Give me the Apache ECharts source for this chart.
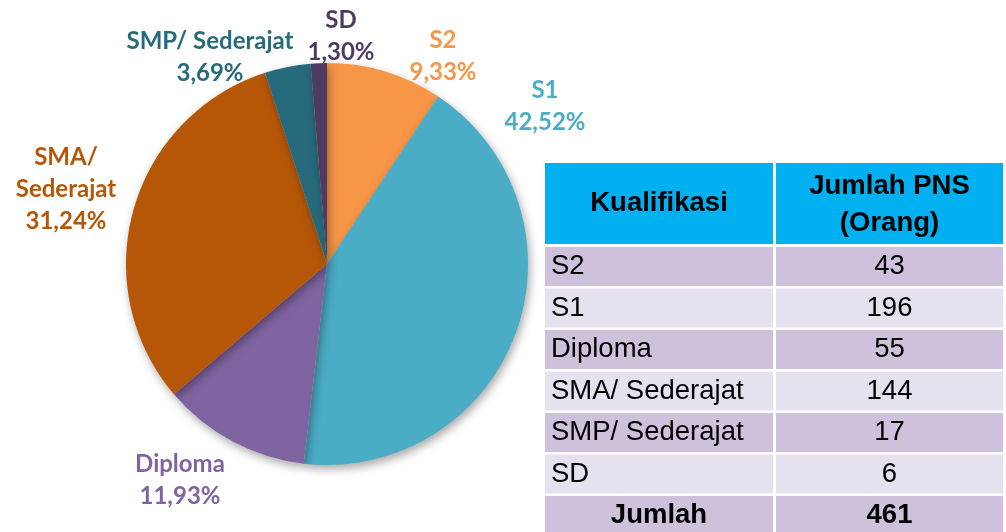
<!DOCTYPE html>
<html>
<head>
<meta charset="utf-8">
<script src="https://cdn.jsdelivr.net/npm/echarts@6/dist/echarts.min.js"></script>
<style>
  html, body { margin: 0; padding: 0; background: #fff; }
  #container { width: 1006px; height: 532px; }
</style>
</head>
<body>
<div id="container"></div>
<script>
// data
const categories = ['S2', 'S1', 'Diploma', 'SMA/ Sederajat', 'SMP/ Sederajat', 'SD'];
const pieNames = ['S2', 'S1', 'Diploma', 'SMA/\nSederajat', 'SMP/ Sederajat', 'SD'];
const jumlahPNS = [43, 196, 55, 144, 17, 6];
const headers = ['Kualifikasi', 'Jumlah PNS\n(Orang)'];
const totalLabel = 'Jumlah';

const colors = ['#F79646', '#4BACC6', '#8064A2', '#B65708', '#276A7C', '#4F3B62'];
// label anchor points (center of each label block)
const labelPos = [[443, 56], [545, 106], [180, 480], [66, 189], [210, 57], [341, 36]];

const total = jumlahPNS.reduce((a, b) => a + b, 0);

const dom = document.getElementById('container');
const myChart = echarts.init(dom, null, { renderer: 'canvas' });

// table drawn with graphic elements
const tx0 = 545, tsplit = 773, tx1 = 1003;
const col2x = tsplit + 3;
const headTop = 163, headH = 81;
const rowTop = 247, rowPitch = 41.5, rowH = 39;
const tableFont = 'Liberation Sans, Arial, sans-serif';
const graphics = [];

function addRect(x, y, w, h, fill) {
  graphics.push({ type: 'rect', shape: { x: x, y: y, width: w, height: h }, style: { fill: fill }, silent: true });
}
function addText(text, x, y, align, bold) {
  graphics.push({
    type: 'text',
    style: {
      text: text, x: x, y: y,
      align: align, verticalAlign: 'middle',
      textAlign: align, textVerticalAlign: 'middle',
      fill: '#000', fontSize: 27.5, fontFamily: tableFont,
      fontWeight: bold ? 'bold' : 'normal', lineHeight: 37
    },
    silent: true
  });
}

addRect(tx0, headTop, tsplit - tx0, headH, '#00B0F0');
addRect(col2x, headTop, tx1 - col2x, headH, '#00B0F0');
addText(headers[0], (tx0 + tsplit) / 2, headTop + headH / 2, 'center', true);
addText(headers[1], (col2x + tx1) / 2, headTop + headH / 2 + 1, 'center', true);

const rows = categories.map((c, i) => [c, String(jumlahPNS[i]), false]);
rows.push([totalLabel, String(total), true]);
rows.forEach((r, i) => {
  const y = rowTop + i * rowPitch;
  const fill = i % 2 === 0 ? '#CDC1DC' : '#E6E1EE';
  addRect(tx0, y, tsplit - tx0, rowH, fill);
  addRect(col2x, y, tx1 - col2x, rowH, fill);
  if (r[2]) {
    addText(r[0], (tx0 + tsplit) / 2, y + rowH / 2, 'center', true);
  } else {
    addText(r[0], tx0 + 6, y + rowH / 2, 'left', false);
  }
  addText(r[1], (col2x + tx1) / 2, y + rowH / 2, 'center', r[2]);
});

const option = {
  animation: false,
  color: colors,
  graphic: graphics,
  series: [
    {
      type: 'pie',
      center: [327, 264],
      radius: 201,
      startAngle: 90,
      clockwise: true,
      itemStyle: {
        shadowBlur: 10,
        shadowColor: 'rgba(0,0,0,0.35)',
        shadowOffsetX: 2,
        shadowOffsetY: 4
      },
      label: {
        show: true,
        position: 'outside',
        overflow: 'none',
        formatter: function (p) {
          const pct = (jumlahPNS[p.dataIndex] / total * 100).toFixed(2).replace('.', ',');
          return pieNames[p.dataIndex] + '\n' + pct + '%';
        },
        fontFamily: 'Lato, sans-serif',
        fontWeight: 'bold',
        fontSize: 24,
        lineHeight: 32,
        align: 'center'
      },
      labelLine: { show: false },
      labelLayout: function (params) {
        const p = labelPos[params.dataIndex];
        return { x: p[0], y: p[1], align: 'center', verticalAlign: 'middle' };
      },
      emphasis: { disabled: true },
      data: categories.map((c, i) => ({
        name: c,
        value: jumlahPNS[i],
        label: { color: colors[i] }
      }))
    }
  ]
};

myChart.setOption(option);
window.addEventListener('resize', myChart.resize);
</script>
</body>
</html>
